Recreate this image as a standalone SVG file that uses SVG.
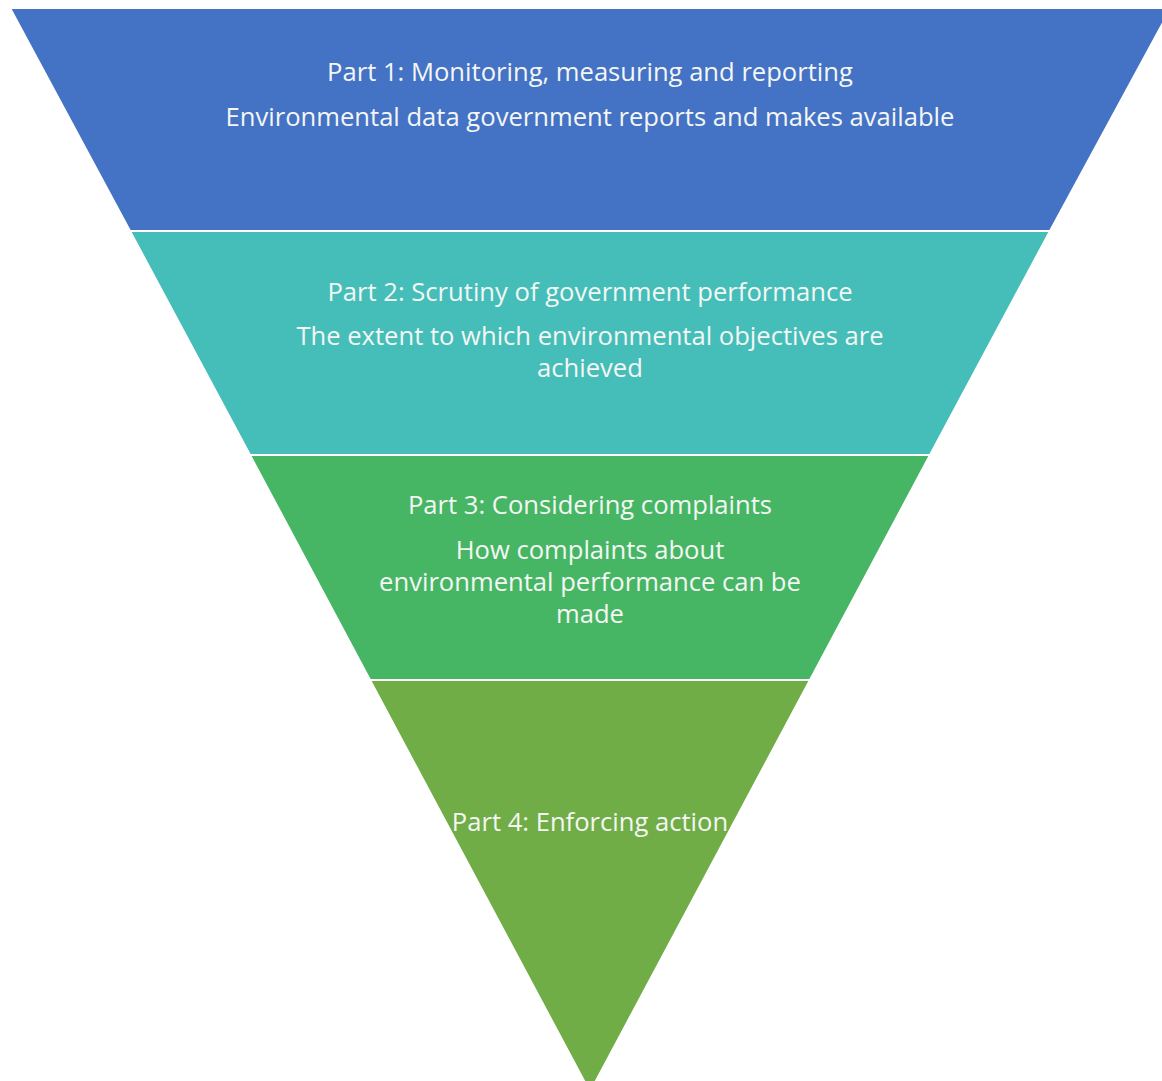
<svg xmlns="http://www.w3.org/2000/svg" width="1162" height="1081" viewBox="0 0 1162 1081">
<style>
.band{stroke:#ffffff;stroke-width:2;stroke-linejoin:miter}
.t{font-family:"Open Sans","Lato","Liberation Sans",sans-serif;font-size:25.6px;fill:#f4f6f4;text-anchor:middle}
</style>
<rect width="1162" height="1081" fill="#ffffff"/>
<g id="part1">
<polygon class="band" fill="#4472C4" points="10,8 1171,8 1050,231 130,231"/>
<text class="t" x="590" y="81">Part 1: Monitoring, measuring and reporting</text>
<text class="t" x="590" y="126">Environmental data government reports and makes available</text>
</g>
<g id="part2">
<polygon class="band" fill="#45BEB9" points="130,231 1050,231 930,455 250,455"/>
<text class="t" x="590" y="301">Part 2: Scrutiny of government performance</text>
<text class="t" x="590" y="345">The extent to which environmental objectives are</text>
<text class="t" x="590" y="377">achieved</text>
</g>
<g id="part3">
<polygon class="band" fill="#46B665" points="250,455 930,455 810,680 370,680"/>
<text class="t" x="590" y="514">Part 3: Considering complaints</text>
<text class="t" x="590" y="559">How complaints about</text>
<text class="t" x="590" y="591">environmental performance can be</text>
<text class="t" x="590" y="623">made</text>
</g>
<g id="part4">
<polygon class="band" fill="#70AD47" points="370,680 810,680 590,1092"/>
<text class="t" x="590" y="831">Part 4: Enforcing action</text>
</g>
<g id="connectors"/>
</svg>
